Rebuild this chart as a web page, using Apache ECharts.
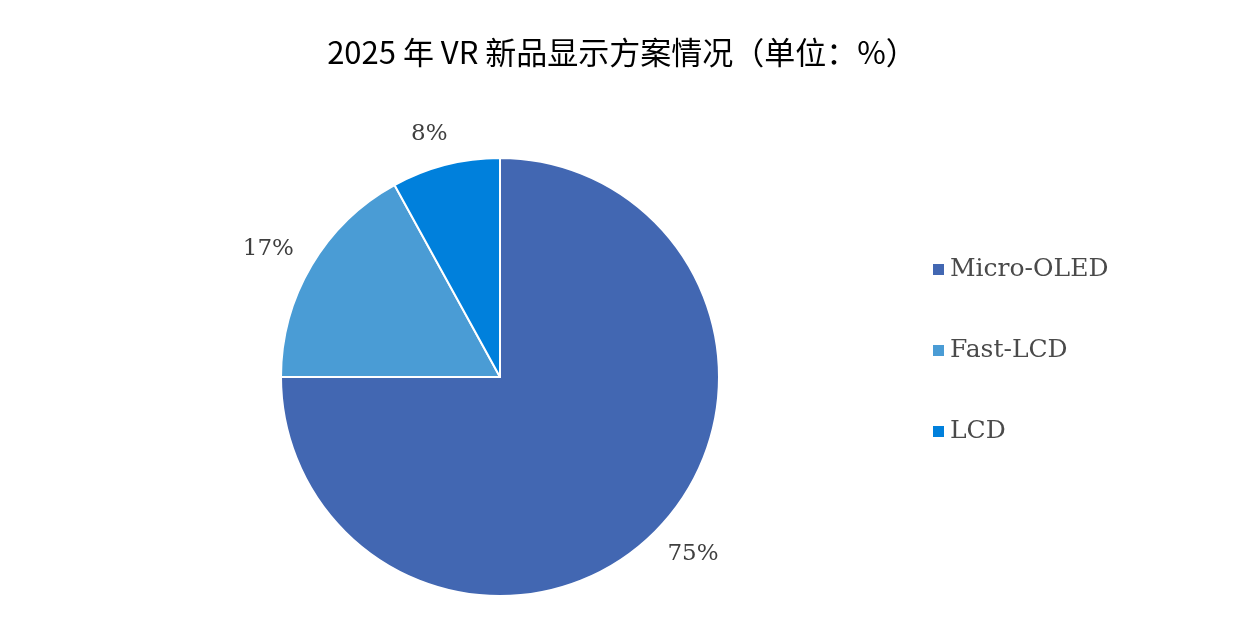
<!DOCTYPE html>
<html>
<head>
<meta charset="utf-8">
<script src="https://cdn.jsdelivr.net/npm/echarts@6/dist/echarts.min.js"></script>
<style>
  html, body { margin: 0; padding: 0; background: #fff; }
  #chart { width: 1244px; height: 624px; }
</style>
</head>
<body>
<div id="chart"></div>
<script>
// 数据
const categories = ['Micro-OLED', 'Fast-LCD', 'LCD'];
const shares = [75, 17, 8];
const colors = ['#4267b2', '#4a9cd5', '#0080dc'];

const chart = echarts.init(document.getElementById('chart'));

const option = {
  title: {
    text: '2025 年 VR 新品显示方案情况（单位：%）',
    left: 'center',
    top: 32,
    textStyle: {
      fontFamily: '"Noto Sans CJK SC", sans-serif',
      fontSize: 31,
      fontWeight: 'normal',
      color: '#000'
    }
  },
  legend: {
    orient: 'vertical',
    left: 926,
    top: 252,
    itemWidth: 13,
    itemHeight: 13,
    itemGap: 56,
    icon: 'rect',
    textStyle: {
      fontFamily: '"DejaVu Serif", serif',
      fontSize: 25,
      color: '#4a4a4a'
    },
    data: categories
  },
  series: [
    {
      type: 'pie',
      center: [500, 377],
      radius: 219,
      startAngle: 90,
      clockwise: true,
      avoidLabelOverlap: false,
      itemStyle: {
        borderColor: '#fff',
        borderWidth: 2
      },
      label: {
        show: true,
        position: 'outside',
        formatter: '{c}%',
        fontFamily: '"DejaVu Serif", serif',
        fontSize: 23,
        color: '#3f3f3f',
        distanceToLabelLine: -10
      },
      labelLine: {
        show: false,
        length: 32,
        length2: 0
      },
      emphasis: { disabled: true },
      data: categories.map((name, i) => ({
        name: name,
        value: shares[i],
        itemStyle: { color: colors[i] }
      }))
    }
  ]
};

chart.setOption(option);
</script>
</body>
</html>
